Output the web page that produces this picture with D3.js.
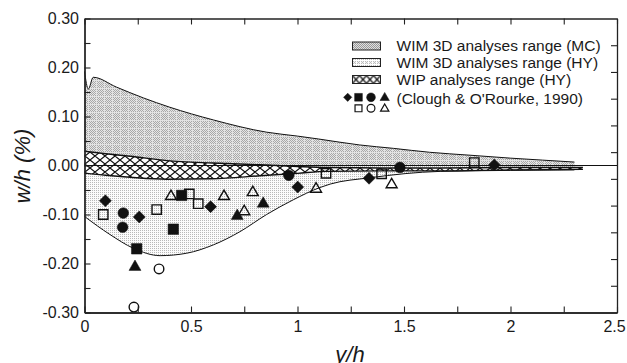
<!DOCTYPE html>
<html>
<head>
<meta charset="utf-8">
<script src="https://cdn.jsdelivr.net/npm/d3@7"></script>
<style>
  body { margin: 0; background: #fff; }
  svg { display: block; }
  text { font-family: "Liberation Sans", Arial, Helvetica, sans-serif; fill: #1a1a1a; }
</style>
</head>
<body>
<svg id="chart" width="627" height="363"></svg>
<script>
// ---- data ---------------------------------------------------------------
// WIM 3D (MC) upper envelope
const mcUpperX = [0, 0.018, 0.041, 0.15, 0.276, 0.40, 0.605, 0.855, 1.0, 1.1, 1.29, 1.45, 1.62, 1.81, 2.0, 2.15, 2.30];
const mcUpperY = [0.192, 0.156, 0.180, 0.160, 0.138, 0.119, 0.093, 0.068, 0.060, 0.054, 0.042, 0.035, 0.027, 0.021, 0.015, 0.011, 0.007];

// WIM 3D (HY) lower envelope
const hyLowerX = [0, 0.12, 0.23, 0.355, 0.48, 0.605, 0.73, 0.855, 0.98, 1.105, 1.153, 1.34, 1.67, 2.0, 2.30];
const hyLowerY = [-0.104, -0.141, -0.169, -0.184, -0.179, -0.162, -0.135, -0.100, -0.070, -0.045, -0.038, -0.025, -0.012, -0.010, -0.009];

// WIP (HY) band
const wipX      = [0, 0.1, 0.214, 0.386, 0.6, 0.824, 1.0, 1.137, 1.4, 1.669, 2.0, 2.34];
const wipUpperY = [0.029, 0.024, 0.019, 0.010, 0.005, 0.0014, -0.002, -0.004, -0.005, -0.005, -0.004, -0.004];
const wipLowerY = [-0.0155, -0.020, -0.024, -0.028, -0.027, -0.021, -0.016, -0.012, -0.011, -0.011, -0.009, -0.008];

// Clough & O'Rourke (1990) field measurements, [y/h, w/h]
const filledDiamonds  = [[0.098, -0.072], [0.257, -0.105], [0.592, -0.084], [1.001, -0.044], [1.336, -0.026], [1.924, 0.001]];
const filledSquares   = [[0.245, -0.170], [0.417, -0.130], [0.456, -0.061]];
const filledCircles   = [[0.182, -0.097], [0.179, -0.126], [0.959, -0.020], [1.481, -0.004]];
const filledTriangles = [[0.237, -0.207], [0.717, -0.103], [0.839, -0.078]];
const openSquares     = [[0.088, -0.100], [0.339, -0.090], [0.492, -0.058], [0.534, -0.078], [1.134, -0.016], [1.395, -0.017], [1.83, 0.006]];
const openCircles     = [[0.350, -0.211], [0.232, -0.289]];
const openTriangles   = [[0.406, -0.063], [0.655, -0.063], [0.750, -0.094], [0.790, -0.055], [1.087, -0.048], [1.442, -0.039]];

// axes
const xTickValues = [0, 0.5, 1, 1.5, 2, 2.5];
const xTickLabels = ["0", "0.5", "1", "1.5", "2", "2.5"];
const xMinorTicks = [0.25, 0.75, 1.25, 1.75, 2.25];
const yTickValues = [0.3, 0.2, 0.1, 0, -0.1, -0.2, -0.3];
const yTickLabels = ["0.30", "0.20", "0.10", "0.00", "-0.10", "-0.20", "-0.30"];
const yMinorTicks = [0.25, 0.15, 0.05, -0.05, -0.15, -0.25];
const rightTickSteps = [1, 2, 3, 4, 5, 6, 7, 8, 9, 10];
const rightTickDivisions = 11;

const legendLabels = ["WIM 3D analyses range (MC)", "WIM 3D analyses range (HY)", "WIP analyses range (HY)", "(Clough & O'Rourke, 1990)"];
const xTitle = "y/h";
const yTitle = "w/h (%)";

// ---- layout -------------------------------------------------------------
const svg = d3.select("#chart");
const L = 84.5, R = 617, T = 18.5, B = 312.5;
const x = d3.scaleLinear().domain([0, 2.5]).range([L, R]);
const y = d3.scaleLinear().domain([-0.3, 0.3]).range([B, T]);
const yRight = d3.scaleLinear().domain([0, rightTickDivisions]).range([B, T]);

// ---- fill patterns ------------------------------------------------------
const defs = svg.append("defs");

function checker(id, bg, fg, gridColor, step) {
  const p = defs.append("pattern").attr("id", id)
    .attr("patternUnits", "userSpaceOnUse")
    .attr("width", step).attr("height", step);
  p.append("rect").attr("width", step).attr("height", step).attr("fill", bg);
  for (let i = 0; i < step; i++) for (let j = 0; j < step; j++) {
    if ((i + j) % 2 === 0) p.append("rect").attr("x", i).attr("y", j).attr("width", 1).attr("height", 1).attr("fill", fg);
  }
  if (gridColor) {
    p.append("rect").attr("x", 0).attr("y", 0).attr("width", 1).attr("height", step).attr("fill", gridColor);
    p.append("rect").attr("x", 0).attr("y", 0).attr("width", step).attr("height", 1).attr("fill", gridColor);
  }
}
checker("mcRegion", "#e6e6e6", "#a8a8a8", "#e2e2e2", 8);
checker("mcSwatch", "#e0e0e0", "#999999", null, 2);
checker("hySwatch", "#f2f2f2", "#bdbdbd", "#ffffff", 4);

const hyP = defs.append("pattern").attr("id", "hyRegion")
  .attr("patternUnits", "userSpaceOnUse").attr("width", 2).attr("height", 2);
hyP.append("rect").attr("width", 2).attr("height", 2).attr("fill", "#fbfbfb");
hyP.append("rect").attr("width", 1).attr("height", 1).attr("fill", "#b8b8b8");

const xh = defs.append("pattern").attr("id", "crossHatch")
  .attr("patternUnits", "userSpaceOnUse").attr("width", 10).attr("height", 8);
xh.append("rect").attr("width", 10).attr("height", 8).attr("fill", "#fff");
xh.append("path").attr("d", "M0,0L10,8M0,8L10,0M-5,4L0,8M5,-4L15,4M-5,4L0,0M5,12L15,4")
  .attr("stroke", "#111").attr("stroke-width", 1.2).attr("fill", "none");

const xhS = defs.append("pattern").attr("id", "crossHatchSmall")
  .attr("patternUnits", "userSpaceOnUse").attr("width", 7).attr("height", 8).attr("x", 352.5).attr("y", 75.5);
xhS.append("rect").attr("width", 7).attr("height", 8).attr("fill", "#fff");
xhS.append("path").attr("d", "M0,0L7,8M0,8L7,0")
  .attr("stroke", "#111").attr("stroke-width", 1.3).attr("fill", "none");

// ---- regions ------------------------------------------------------------
const curve = d3.curveMonotoneX;
const mcPts = mcUpperX.map((v, i) => [v, mcUpperY[i]]);
const hyPts = hyLowerX.map((v, i) => [v, hyLowerY[i]]);
const wipPts = wipX.map((v, i) => [v, wipUpperY[i], wipLowerY[i]]);

svg.append("path").datum(mcPts)
  .attr("d", d3.area().x(d => x(d[0])).y0(y(0)).y1(d => y(d[1])).curve(curve))
  .attr("fill", "url(#mcRegion)");
svg.append("path").datum(hyPts)
  .attr("d", d3.area().x(d => x(d[0])).y0(y(0)).y1(d => y(d[1])).curve(curve))
  .attr("fill", "url(#hyRegion)");
svg.append("path").datum(wipPts)
  .attr("d", d3.area().x(d => x(d[0])).y0(d => y(d[2])).y1(d => y(d[1])).curve(curve))
  .attr("fill", "url(#crossHatch)");

const line = d3.line().x(d => x(d[0])).y(d => y(d[1])).curve(curve);
svg.append("path").datum(mcPts).attr("d", line).attr("fill", "none").attr("stroke", "#111").attr("stroke-width", 1);
svg.append("path").datum(hyPts).attr("d", line).attr("fill", "none").attr("stroke", "#111").attr("stroke-width", 1);
svg.append("path").datum(wipPts).attr("d", d3.line().x(d => x(d[0])).y(d => y(d[1])).curve(curve))
  .attr("fill", "none").attr("stroke", "#111").attr("stroke-width", 1.4);
svg.append("path").datum(wipPts).attr("d", d3.line().x(d => x(d[0])).y(d => y(d[2])).curve(curve))
  .attr("fill", "none").attr("stroke", "#111").attr("stroke-width", 1.4);

// zero reference line
svg.append("line").attr("x1", L).attr("x2", R).attr("y1", y(0)).attr("y2", y(0))
  .attr("stroke", "#111").attr("stroke-width", 1);

// ---- markers ------------------------------------------------------------
const sym = {
  diamond: d3.symbol().type(d3.symbolSquare).size(72),
  square: d3.symbol().type(d3.symbolSquare).size(110),
  circle: d3.symbol().type(d3.symbolCircle).size(90),
  triangle: d3.symbol().type(d3.symbolTriangle).size(62),
  squareOpen: d3.symbol().type(d3.symbolSquare).size(88),
  circleOpen: d3.symbol().type(d3.symbolCircle).size(72),
  triangleOpen: d3.symbol().type(d3.symbolTriangle).size(52)
};
const series = [
  { data: filledDiamonds, s: "diamond", filled: true, rot: 45 },
  { data: filledSquares, s: "square", filled: true, rot: 0 },
  { data: filledCircles, s: "circle", filled: true, rot: 0 },
  { data: filledTriangles, s: "triangle", filled: true, rot: 0 },
  { data: openSquares, s: "squareOpen", filled: false, rot: 0 },
  { data: openCircles, s: "circleOpen", filled: false, rot: 0 },
  { data: openTriangles, s: "triangleOpen", filled: false, rot: 0 }
];
series.forEach(sr => {
  svg.append("g").selectAll("path").data(sr.data).join("path")
    .attr("d", sym[sr.s])
    .attr("transform", d => `translate(${x(d[0])},${y(d[1])}) rotate(${sr.rot})`)
    .attr("fill", sr.filled ? "#111" : "none")
    .attr("stroke", "#111")
    .attr("stroke-width", sr.filled ? 0.5 : 1.4);
});

// ---- axes ---------------------------------------------------------------
const axisStyle = g => {
  g.select(".domain").attr("stroke", "#222").attr("stroke-width", 1.3);
  g.selectAll(".tick line").attr("stroke", "#222").attr("stroke-width", 1.1);
  g.selectAll("text").attr("font-size", 16).attr("fill", "#1a1a1a")
    .attr("font-family", "'Liberation Sans', Arial, sans-serif");
};

const xAxisG = svg.append("g").attr("transform", `translate(0,${B})`)
  .call(d3.axisBottom(x).tickValues(xTickValues).tickFormat((d, i) => xTickLabels[i]).tickSize(-6).tickPadding(8.5).tickSizeOuter(0))
  .call(axisStyle);
// keep the last label inside the canvas
xAxisG.selectAll(".tick text").filter(d => d === 2.5).attr("dx", -3);

svg.append("g").attr("transform", `translate(0,${B})`)
  .call(d3.axisBottom(x).tickValues(xMinorTicks).tickFormat("").tickSize(-6).tickSizeOuter(0))
  .call(axisStyle);
svg.append("g").attr("transform", `translate(0,${T})`)
  .call(d3.axisTop(x).tickValues(xTickValues.concat(xMinorTicks)).tickFormat("").tickSize(-6).tickSizeOuter(0))
  .call(axisStyle);
svg.append("g").attr("transform", `translate(${L},0)`)
  .call(d3.axisLeft(y).tickValues(yTickValues).tickFormat((d, i) => yTickLabels[i]).tickSize(-6).tickPadding(5.5).tickSizeOuter(0))
  .call(axisStyle);
svg.append("g").attr("transform", `translate(${L},0)`)
  .call(d3.axisLeft(y).tickValues(yMinorTicks).tickFormat("").tickSize(-6).tickSizeOuter(0))
  .call(axisStyle);
svg.append("g").attr("transform", `translate(${R},0)`)
  .call(d3.axisRight(yRight).tickValues(rightTickSteps).tickFormat("").tickSize(-6).tickSizeOuter(0))
  .call(axisStyle);

// axis titles
svg.append("text").attr("x", 350).attr("y", 362).attr("text-anchor", "middle")
  .attr("font-size", 22).attr("font-style", "italic").text(xTitle);
svg.append("text").attr("transform", "translate(30,166) rotate(-90)").attr("text-anchor", "middle")
  .attr("font-size", 22).attr("font-style", "italic").text(yTitle);

// ---- legend -------------------------------------------------------------
const lg = svg.append("g");
const swatchFills = ["url(#mcSwatch)", "url(#hySwatch)", "url(#crossHatchSmall)"];
const swatchTops = [42, 58.5, 75.5];
const textBase = [50.7, 67.7, 85, 103.5];
swatchFills.forEach((f, i) => {
  lg.append("rect").attr("x", 352.5).attr("y", swatchTops[i]).attr("width", 28).attr("height", 8)
    .attr("fill", f).attr("stroke", "#222").attr("stroke-width", 1);
});
legendLabels.forEach((t, i) => {
  lg.append("text").attr("x", 396.5).attr("y", textBase[i]).attr("font-size", 15.5).text(t);
});
const legendSym = [
  { s: d3.symbolSquare, size: 34, x: 347.7, y: 97.3, rot: 45, filled: true },
  { s: d3.symbolSquare, size: 60, x: 358.5, y: 97.3, rot: 0, filled: true },
  { s: d3.symbolCircle, size: 60, x: 371, y: 97.3, rot: 0, filled: true },
  { s: d3.symbolTriangle, size: 38, x: 384.7, y: 97.8, rot: 0, filled: true },
  { s: d3.symbolSquare, size: 48, x: 358.5, y: 108.3, rot: 0, filled: false },
  { s: d3.symbolCircle, size: 48, x: 371, y: 108.3, rot: 0, filled: false },
  { s: d3.symbolTriangle, size: 30, x: 384.7, y: 108.8, rot: 0, filled: false }
];
legendSym.forEach(m => {
  lg.append("path").attr("d", d3.symbol().type(m.s).size(m.size))
    .attr("transform", `translate(${m.x},${m.y}) rotate(${m.rot})`)
    .attr("fill", m.filled ? "#111" : "none").attr("stroke", "#111")
    .attr("stroke-width", m.filled ? 0.5 : 1.2);
});
</script>
</body>
</html>
